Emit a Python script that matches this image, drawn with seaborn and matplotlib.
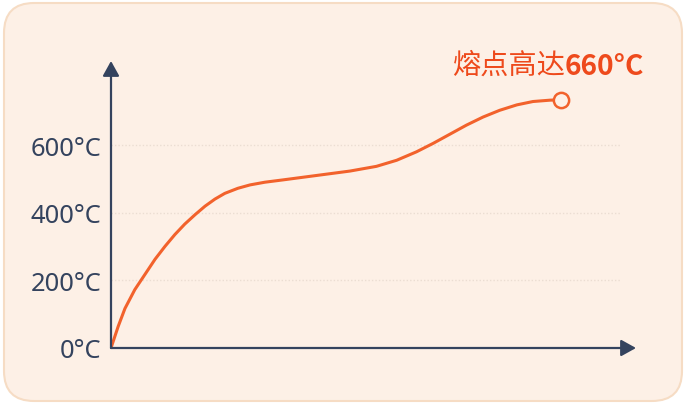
import numpy as np
import pandas as pd
import seaborn as sns
import matplotlib.pyplot as plt
from matplotlib.patches import FancyBboxPatch

# curve (time in arbitrary units, temperature in °C)
time = [0, 0.16, 0.31, 0.53, 0.76, 0.98, 1.2, 1.42, 1.64, 1.87, 2.09, 2.31, 2.53,
        2.82, 3.09, 3.42, 3.83, 4.57, 5.31, 5.9, 6.35, 6.79, 7.16, 7.53, 7.9,
        8.27, 8.64, 9.02, 9.38, 9.76, 10.0]
temp = [0, 64, 117, 173, 219, 263, 301, 336, 367, 395, 420, 441, 458,
        473, 483, 491, 498, 511, 524, 538, 556, 581, 606, 633, 660,
        684, 704, 720, 730, 734, 735]
yticks = [0, 200, 400, 600]
label_text = "熔点高达"
label_value = "660°C"

df = pd.DataFrame({"time": time, "temp": temp})

sns.set_theme(style="white")
plt.rcParams['font.family'] = ['Noto Sans', 'Noto Sans CJK SC', 'DejaVu Sans']

navy = "#34435E"
orange = "#F2622C"
red = "#EE4A1C"
bg = "#FDF0E6"

fig = plt.figure(figsize=(6.86, 4.06), dpi=100, facecolor="white")
card = FancyBboxPatch((0.04, 0.04), 6.78, 3.98,
                      boxstyle="round,pad=0,rounding_size=0.3",
                      transform=fig.dpi_scale_trans,
                      facecolor=bg, edgecolor="#F6DCC4", linewidth=1.5, zorder=-10)
fig.patches.append(card)

ax = fig.add_axes([111/686, 1 - 349/406, (636-111)/686, (349-62)/406])
ax.set_facecolor("none")
ax.set_xlim(0, 11.67)
ax.set_ylim(0, 850)

ax.hlines([200, 400, 600], 0, 11.31, colors="#EBDDD2", linestyles=(0, (1, 1.5)), lw=1)

sns.lineplot(data=df, x="time", y="temp", ax=ax, color=orange, lw=2.2, sort=False,
             solid_joinstyle="round", solid_capstyle="round")
ax.plot(time[-1], temp[-1], "o", ms=11, mfc=bg, mec=orange, mew=1.8, zorder=5, clip_on=False)

for s in ax.spines.values():
    s.set_visible(False)
arrow = dict(arrowstyle="-|>,head_length=0.45,head_width=0.25", color=navy,
             lw=1.6, mutation_scale=20, shrinkA=0, shrinkB=0)
ax.annotate("", xy=(0, 1), xytext=(0, 0), xycoords="axes fraction", arrowprops=arrow)
ax.annotate("", xy=(1, 0), xytext=(0, 0), xycoords="axes fraction", arrowprops=arrow)

ax.set_xticks([])
ax.set_yticks(yticks)
ax.set_yticklabels([f"{v}°C" for v in yticks])
ax.tick_params(axis="y", length=0, pad=7, labelsize=18.4, labelcolor=navy)
ax.set_xlabel("")
ax.set_ylabel("")

t1 = fig.text(452/686, 1 - 81/406, label_text, fontsize=20.3, color=red,
              family=['Noto Sans CJK SC'], ha="left", va="bottom")
ax.annotate(label_value, xy=(1, 0), xycoords=t1, fontsize=20.3, color=red,
            family=['Noto Sans CJK SC'], fontweight="bold", ha="left", va="bottom",
            annotation_clip=False)

fig.savefig("out.png", dpi=100)
